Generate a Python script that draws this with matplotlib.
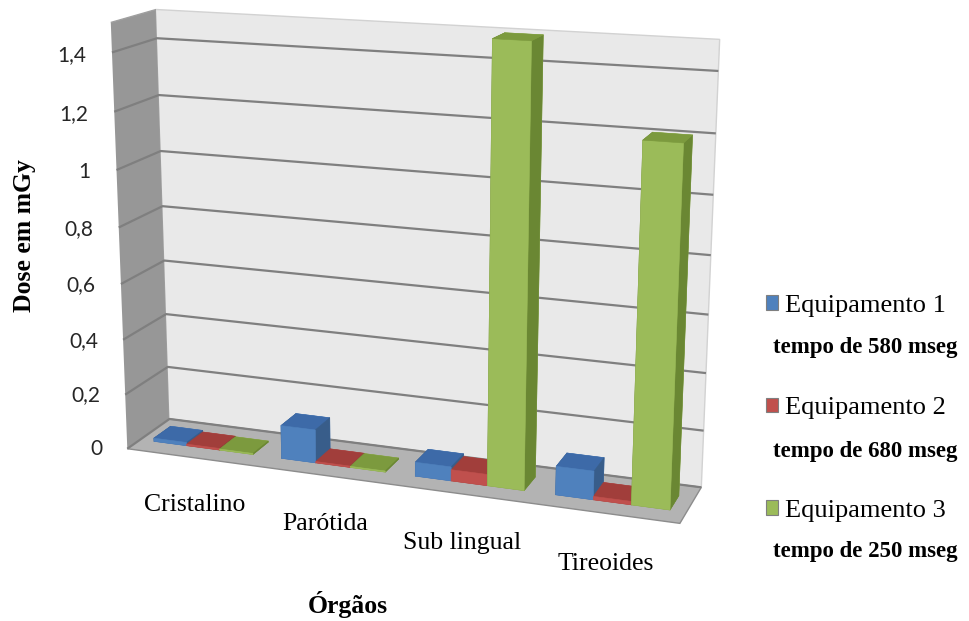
import numpy as np
import matplotlib.pyplot as plt
from matplotlib.patches import Patch
from matplotlib.ticker import NullFormatter

# dose per organ (mGy), one list per equipment
organs = ["Cristalino", "Parótida", "Sub lingual", "Tireoides"]
equip_names = ["Equipamento 1", "Equipamento 2", "Equipamento 3"]
exposure_times = ["tempo de 580 mseg", "tempo de 680 mseg", "tempo de 250 mseg"]
dose_equip1 = [0.012, 0.12, 0.05, 0.10]
dose_equip2 = [0.006, 0.005, 0.04, 0.012]
dose_equip3 = [0.004, 0.004, 1.50, 1.21]
z_ticks = [0, 0.2, 0.4, 0.6, 0.8, 1.0, 1.2, 1.4]

front_colors = ["#4F81BD", "#C0504D", "#9BBB59"]
top_colors = ["#3D6AA8", "#A13E3B", "#7C9A3E"]
side_colors = ["#385D8A", "#8C3836", "#6A8733"]

plt.rcParams["font.family"] = ["Liberation Serif", "DejaVu Serif"]

fig = plt.figure(figsize=(9.7, 6.21), dpi=100)
ax = fig.add_axes([0.0225, -0.0318, 0.773, 1.208], projection="3d")
ax.set_proj_type("persp", focal_length=0.49)
ax.view_init(elev=15, azim=-70)
ax.set_box_aspect((0.767, 0.128, 0.585), zoom=0.9731)
ax.set_xlim(0, len(organs))
ax.set_ylim(0, 1)
ax.set_zlim(0, 1.5)

# clustered 3D columns, one colour per face (bottom, top, front, back, left, right)
bar_w, bar_d, bar_y = 0.26, 0.4, 0.3
xs, dzs, face_cols = [], [], []
for j, series in enumerate([dose_equip1, dose_equip2, dose_equip3]):
    for i, v in enumerate(series):
        xs.append(i + 0.5 + (j - 1.5) * bar_w)
        dzs.append(v)
        face_cols += [top_colors[j], top_colors[j], front_colors[j],
                      front_colors[j], side_colors[j], side_colors[j]]
ax.bar3d(xs, [bar_y] * len(xs), 0, bar_w, bar_d, dzs, color=face_cols,
         shade=False, edgecolor=face_cols, linewidth=0.4)

# walls and floor
ax.xaxis.set_pane_color("#979797")
ax.yaxis.set_pane_color("#E9E9E9")
ax.zaxis.set_pane_color("#B3B3B3")
ax.xaxis.pane.set_edgecolor("#A0A0A0")
ax.yaxis.pane.set_edgecolor("#D2D2D2")
ax.zaxis.pane.set_edgecolor("#8C8C8C")
for axis in (ax.xaxis, ax.yaxis, ax.zaxis):
    axis.line.set_color((0, 0, 0, 0))

ax.set_xticks([])
ax.set_yticks([])
ax.set_zticks(z_ticks)
ax.zaxis.set_major_formatter(NullFormatter())
ax.zaxis._axinfo["tick"]["inward_factor"] = 0
ax.zaxis._axinfo["tick"]["outward_factor"] = 0
ax.zaxis._axinfo["grid"].update(color="#7F7F7F", linewidth=1.6, linestyle="-")
ax.grid(True)


def project(x, y, z):
    # 3D data point -> 2D data coordinates of the 3D axes
    vx, vy, _, w = ax.get_proj() @ np.array([x, y, z, 1.0])
    return vx / w, vy / w


for v in z_ticks:
    px, py = project(-0.2, 0, v - 0.015)
    ax.text2D(px, py, f"{v:g}".replace(".", ","), transform=ax.transData,
              ha="right", va="center", fontsize=15, family="Lato", color="#262626")

for i, name in enumerate(organs):
    px, py = project(i + 0.52, 0, -0.175)
    ax.text2D(px, py, name, transform=ax.transData, ha="center", va="center",
              fontsize=18.5)

fig.text(25 / 970, 1 - 236 / 621, "Dose em mGy", rotation=90, ha="center",
         va="center", fontsize=18.5, fontweight="bold")
fig.text(348 / 970, 1 - 605 / 621, "Órgãos", ha="center", va="center",
         fontsize=18.5, fontweight="bold")

handles = [Patch(facecolor=c, edgecolor="#7F7F7F", linewidth=0.8) for c in front_colors]
fig.legend(handles, equip_names, loc="upper left",
           bbox_to_anchor=(766 / 970, 1 - 295 / 621), frameon=False,
           fontsize=19, handlelength=0.46, handleheight=0.46,
           handletextpad=0.25, labelspacing=3.05, borderpad=0, borderaxespad=0)
for t, y in zip(exposure_times, [347, 452, 551]):
    fig.text(773 / 970, 1 - y / 621, t, ha="left", va="center",
             fontsize=16.5, fontweight="bold")

fig.savefig("out.png", dpi=100)
